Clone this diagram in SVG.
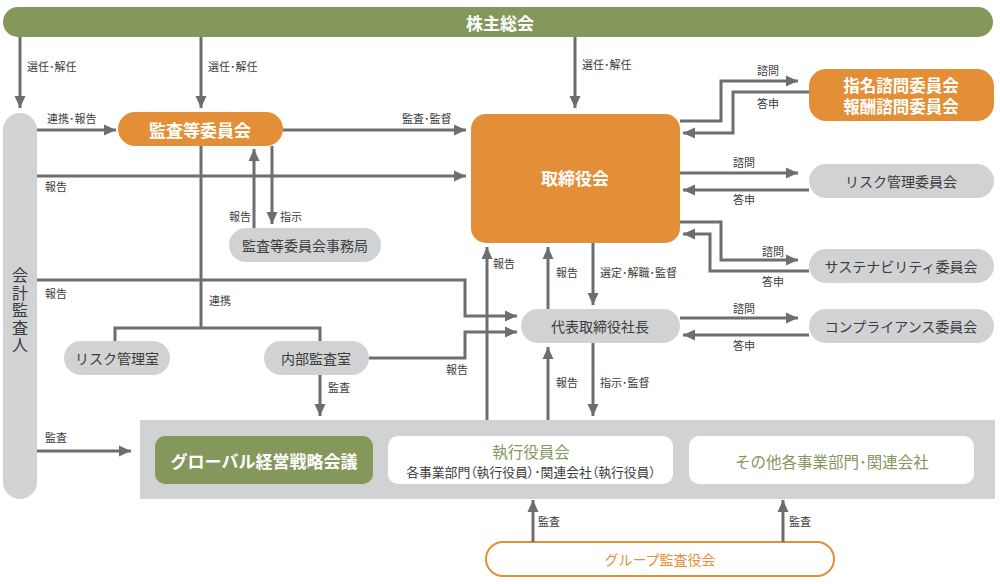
<svg xmlns="http://www.w3.org/2000/svg" width="1000" height="584" viewBox="0 0 1000 584">
<defs>
<marker id="ah" markerUnits="userSpaceOnUse" markerWidth="14" markerHeight="14" viewBox="0 0 14 14" refX="13" refY="7" orient="auto">
<path d="M1,1.5 L13,7 L1,12.5 Z" fill="#6D6E71"/>
</marker>
<style>
text{font-family:"Noto Sans CJK JP","Noto Sans",sans-serif}
.c{fill:none;stroke:#6D6E71;stroke-width:3}
.a{marker-end:url(#ah)}
.lb{font-size:11px;fill:#3C3C3C}
.wt{font-size:17px;font-weight:bold;fill:#FFFFFF;text-anchor:middle;dominant-baseline:central}
.gt{font-size:14px;fill:#3C3C3C;text-anchor:middle;dominant-baseline:central}
.gray{fill:#D1D2D4}
.org{fill:#E38F37}
.grn{fill:#84985C}
</style>
</defs>

<g id="shareholders">
<rect x="3" y="7" width="990" height="30" rx="15" class="grn"/>
<text x="500" y="22" class="wt">株主総会</text>
</g>

<g id="auditor">
<rect x="3" y="113" width="34" height="386" rx="17" class="gray"/>
<text x="20" y="267" style="font-size:16px;fill:#3C3C3C;writing-mode:vertical-rl;letter-spacing:1.5px">会計監査人</text>
</g>

<g id="audit-committee">
<rect x="118" y="112" width="165" height="34" rx="17" class="org"/>
<text x="200" y="129" class="wt">監査等委員会</text>
</g>

<g id="board">
<rect x="471" y="114" width="209" height="129" rx="15" class="org"/>
<text x="575" y="177" class="wt">取締役会</text>
</g>

<g id="audit-office">
<rect x="229" y="228" width="152" height="34" rx="17" class="gray"/>
<text x="305" y="245" class="gt">監査等委員会事務局</text>
</g>

<g id="risk-office">
<rect x="64" y="341" width="106" height="34" rx="17" class="gray"/>
<text x="117" y="358" class="gt">リスク管理室</text>
</g>

<g id="internal-audit">
<rect x="264" y="341" width="105" height="34" rx="17" class="gray"/>
<text x="316" y="358" class="gt">内部監査室</text>
</g>

<g id="president">
<rect x="521" y="309" width="159" height="34" rx="17" class="gray"/>
<text x="600" y="326" class="gt">代表取締役社長</text>
</g>

<g id="nomination-committee">
<rect x="809" y="69" width="185" height="52" rx="17" class="org"/>
<text x="901" y="84.5" style="font-size:16.5px;font-weight:bold;fill:#FFFFFF;text-anchor:middle;dominant-baseline:central">指名諮問委員会</text>
<text x="901" y="105.5" style="font-size:16.5px;font-weight:bold;fill:#FFFFFF;text-anchor:middle;dominant-baseline:central">報酬諮問委員会</text>
</g>

<g id="risk-committee">
<rect x="809" y="164" width="185" height="34" rx="17" class="gray"/>
<text x="901" y="181" class="gt">リスク管理委員会</text>
</g>

<g id="sustainability-committee">
<rect x="809" y="249" width="185" height="34" rx="17" class="gray"/>
<text x="901" y="266" class="gt">サステナビリティ委員会</text>
</g>

<g id="compliance-committee">
<rect x="809" y="309" width="185" height="34" rx="17" class="gray"/>
<text x="901" y="326" class="gt">コンプライアンス委員会</text>
</g>

<g id="execution-area">
<rect x="140" y="420" width="855" height="79" class="gray"/>
</g>

<g id="global-strategy">
<rect x="155" y="436" width="218" height="48" rx="10" class="grn"/>
<text x="264" y="460" class="wt">グローバル経営戦略会議</text>
</g>

<g id="executive-committee">
<rect x="388" y="436" width="285" height="48" rx="10" fill="#FFFFFF"/>
<text x="531" y="450.5" style="font-size:15.5px;fill:#84985C;text-anchor:middle;dominant-baseline:central">執行役員会</text>
<text x="531" y="471" style="font-size:12.8px;fill:#3C3C3C;text-anchor:middle;dominant-baseline:central;font-feature-settings:'palt'">各事業部門（執行役員）･関連会社（執行役員）</text>
</g>

<g id="other-divisions">
<rect x="689" y="436" width="285" height="48" rx="10" fill="#FFFFFF"/>
<text x="832" y="461" style="font-size:15.5px;fill:#84985C;text-anchor:middle;dominant-baseline:central">その他各事業部門･関連会社</text>
</g>

<g id="group-auditors">
<rect x="486" y="542" width="348" height="34" rx="17" fill="#FFFFFF" stroke="#E38F37" stroke-width="2"/>
<text x="660" y="559" style="font-size:14px;fill:#E38F37;text-anchor:middle;dominant-baseline:central">グループ監査役会</text>
</g>

<g id="connectors">
<path class="c a" d="M20,37 V108"/>
<path class="c a" d="M201,37 V108"/>
<path class="c a" d="M575,37 V108"/>
<path class="c a" d="M37,130 H116"/>
<path class="c a" d="M283,130 H466"/>
<path class="c a" d="M37,176 H466"/>
<path class="c a" d="M254,228 V149"/>
<path class="c a" d="M272,146 V224"/>
<path class="c" d="M201,146 V328"/>
<path class="c" d="M115,341 V328 H320 V341"/>
<path class="c a" d="M37,280 H465 V316 H517"/>
<path class="c a" d="M369,358 H465 V332 H517"/>
<path class="c a" d="M320,375 V416"/>
<path class="c a" d="M37,451 H131"/>
<path class="c a" d="M487,420 V247"/>
<path class="c a" d="M548,309 V247"/>
<path class="c a" d="M593,243 V305"/>
<path class="c a" d="M548,420 V347"/>
<path class="c a" d="M593,343 V416"/>
<path class="c a" d="M533,542 V500"/>
<path class="c a" d="M783,542 V500"/>
<path class="c a" d="M680,121 H721 V81 H798"/>
<path class="c a" d="M809,92 H733 V133 H683"/>
<path class="c a" d="M680,173 H798"/>
<path class="c a" d="M809,190 H683"/>
<path class="c a" d="M680,222 H721 V260 H798"/>
<path class="c a" d="M809,271 H710 V234 H683"/>
<path class="c a" d="M680,318 H798"/>
<path class="c a" d="M809,335 H683"/>
</g>

<g id="labels">
<text x="27" y="71" class="lb">選任･解任</text>
<text x="208" y="71" class="lb">選任･解任</text>
<text x="582" y="69" class="lb">選任･解任</text>
<text x="47" y="123" class="lb">連携･報告</text>
<text x="402" y="123" class="lb">監査･監督</text>
<text x="45" y="191" class="lb">報告</text>
<text x="229" y="221" class="lb">報告</text>
<text x="280" y="221" class="lb">指示</text>
<text x="45" y="298" class="lb">報告</text>
<text x="209" y="305" class="lb">連携</text>
<text x="446" y="374" class="lb">報告</text>
<text x="328" y="392" class="lb">監査</text>
<text x="45" y="442" class="lb">監査</text>
<text x="493" y="268" class="lb">報告</text>
<text x="556" y="277" class="lb">報告</text>
<text x="600" y="277" class="lb">選定･解職･監督</text>
<text x="556" y="387" class="lb">報告</text>
<text x="600" y="387" class="lb">指示･監督</text>
<text x="538" y="526" class="lb">監査</text>
<text x="789" y="526" class="lb">監査</text>
<text x="757" y="75" class="lb">諮問</text>
<text x="757" y="108" class="lb">答申</text>
<text x="733" y="167" class="lb">諮問</text>
<text x="733" y="204" class="lb">答申</text>
<text x="762" y="256" class="lb">諮問</text>
<text x="762" y="286" class="lb">答申</text>
<text x="733" y="313" class="lb">諮問</text>
<text x="733" y="350" class="lb">答申</text>
</g>
</svg>
